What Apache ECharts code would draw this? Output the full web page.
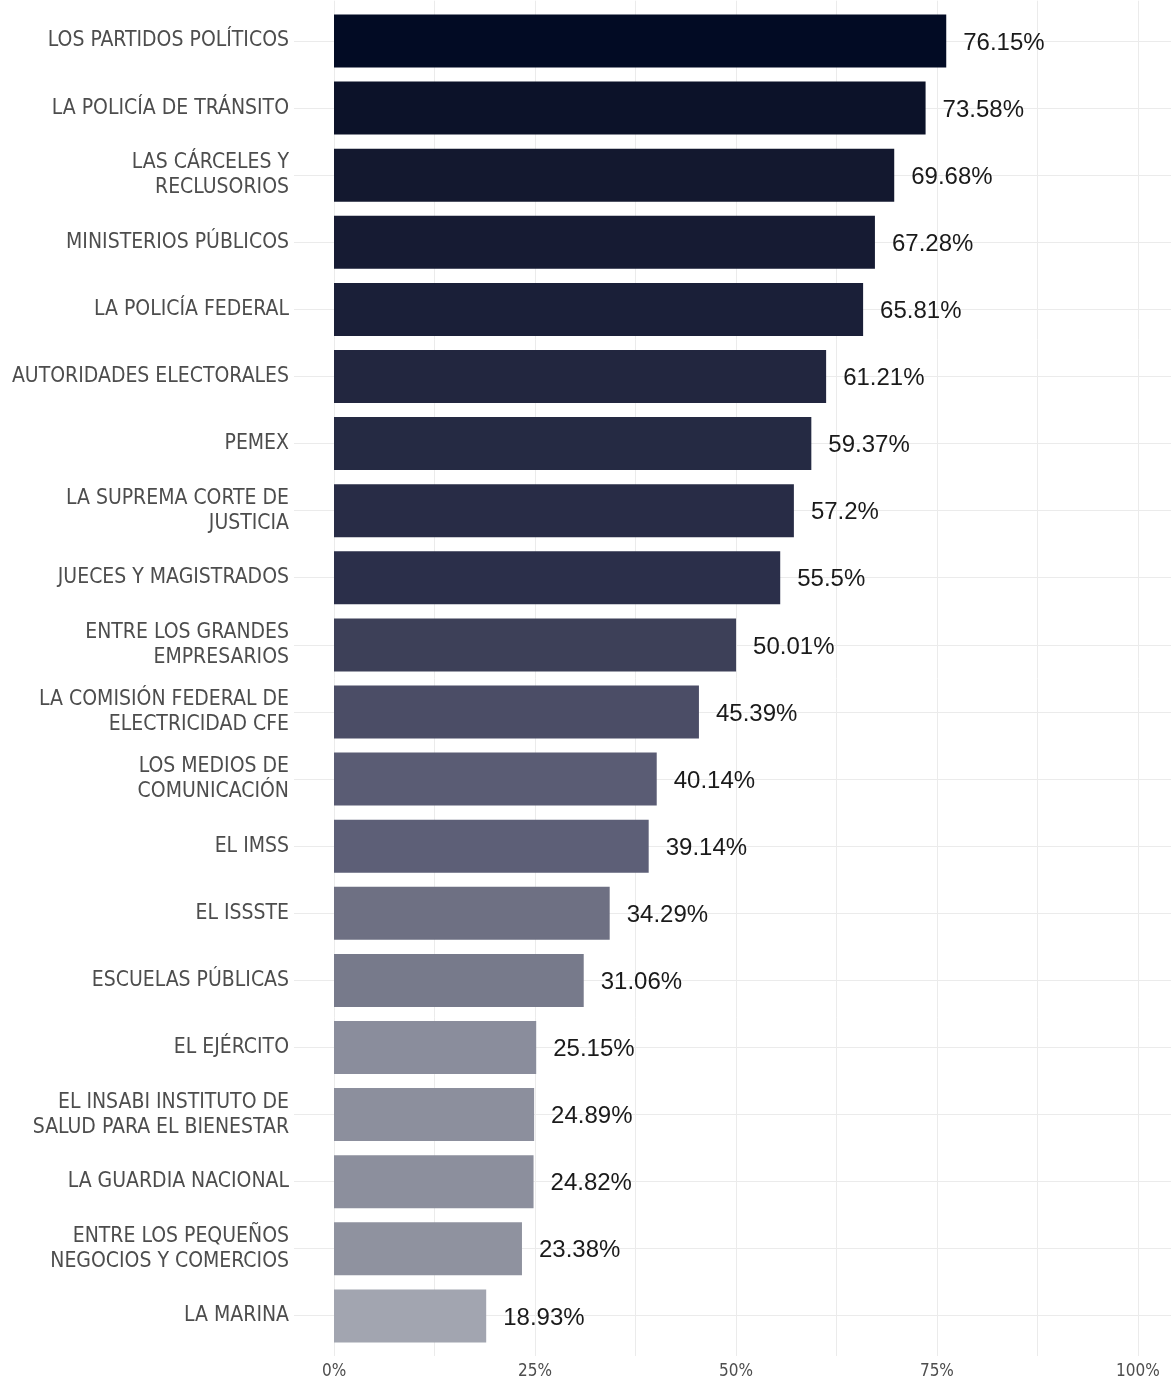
<!DOCTYPE html>
<html>
<head>
<meta charset="utf-8">
<script src="https://cdn.jsdelivr.net/npm/echarts@6/dist/echarts.min.js"></script>
<style>html,body{margin:0;padding:0;background:#fff;}#chart{width:1171px;height:1380px;}</style>
</head>
<body>
<div id="chart"></div>
<script>
const categories = [
  "LOS PARTIDOS POLÍTICOS",
  "LA POLICÍA DE TRÁNSITO",
  "LAS CÁRCELES Y\nRECLUSORIOS",
  "MINISTERIOS PÚBLICOS",
  "LA POLICÍA FEDERAL",
  "AUTORIDADES ELECTORALES",
  "PEMEX",
  "LA SUPREMA CORTE DE\nJUSTICIA",
  "JUECES Y MAGISTRADOS",
  "ENTRE LOS GRANDES\nEMPRESARIOS",
  "LA COMISIÓN FEDERAL DE\nELECTRICIDAD CFE",
  "LOS MEDIOS DE\nCOMUNICACIÓN",
  "EL IMSS",
  "EL ISSSTE",
  "ESCUELAS PÚBLICAS",
  "EL EJÉRCITO",
  "EL INSABI INSTITUTO DE\nSALUD PARA EL BIENESTAR",
  "LA GUARDIA NACIONAL",
  "ENTRE LOS PEQUEÑOS\nNEGOCIOS Y COMERCIOS",
  "LA MARINA"
];
const values = [76.15, 73.58, 69.68, 67.28, 65.81, 61.21, 59.37, 57.2, 55.5, 50.01,
                45.39, 40.14, 39.14, 34.29, 31.06, 25.15, 24.89, 24.82, 23.38, 18.93];
const xTickLabels = [0, 25, 50, 75, 100];
const xGridValues = [0, 12.5, 25, 37.5, 50, 62.5, 75, 87.5, 100];
const rowPositions = [1,2,3,4,5,6,7,8,9,10,11,12,13,14,15,16,17,18,19,20];

const barColors = ["#020b24", "#0c1229", "#13182f", "#161b33", "#1a1f38", "#22263f", "#252a43",
                   "#282c46", "#2b2f4a", "#3d4058", "#4b4d66", "#5a5c74", "#5d5f77", "#6e7083",
                   "#777a8b", "#8a8d9c", "#8c8f9d", "#8c8f9d", "#8f929f", "#a2a5b0"];

const narrow = "'DejaVu Sans Condensed', 'Liberation Sans Narrow', sans-serif";
const chart = echarts.init(document.getElementById('chart'), null, {renderer: 'canvas'});
chart.setOption({
  animation: false,
  backgroundColor: '#ffffff',
  grid: [
    {left: 334, width: 804, top: 7.45, height: 1342, containLabel: false, outerBoundsMode: 'none'},
    {left: 294, width: 884, top: 0.7, height: 1355.3, containLabel: false, outerBoundsMode: 'none'}
  ],
  xAxis: [
    {gridIndex: 0, type: 'value', min: 0, max: 100, show: false},
    {gridIndex: 1, type: 'value', min: -5, max: 105,
     axisLine: {show: false},
     axisTick: {show: false, customValues: xGridValues},
     splitLine: {show: true, lineStyle: {color: '#ebebeb', width: 1}},
     axisLabel: {customValues: xTickLabels, formatter: v => v + '%', color: '#4d4d4d',
                 fontFamily: narrow, fontSize: 17, margin: 7}}
  ],
  yAxis: [
    {gridIndex: 0, type: 'category', data: categories, inverse: true,
     axisLine: {show: false}, axisTick: {show: false}, splitLine: {show: false},
     axisLabel: {color: '#4d4d4d', fontFamily: narrow, fontSize: 21, lineHeight: 25, margin: 45,
                 align: 'right', padding: [4, 0, 0, 0]}},
    {gridIndex: 1, type: 'value', min: 0.4, max: 20.6, inverse: true,
     axisLine: {show: false},
     axisTick: {show: false, customValues: rowPositions},
     axisLabel: {show: false},
     splitLine: {show: true, lineStyle: {color: '#ebebeb', width: 1}}}
  ],
  series: [
    {type: 'bar', xAxisIndex: 0, yAxisIndex: 0, barWidth: 53,
     data: values.map((v, i) => ({value: v, itemStyle: {color: barColors[i]}})),
     label: {show: true, position: 'right', distance: 17, offset: [0, 2], formatter: p => p.value + '%',
             color: '#1a1a1a', fontFamily: "'Liberation Sans', Arial, sans-serif", fontSize: 24},
     z: 3},
    {type: 'scatter', xAxisIndex: 1, yAxisIndex: 1, data: [], silent: true}
  ]
});
</script>
</body>
</html>
